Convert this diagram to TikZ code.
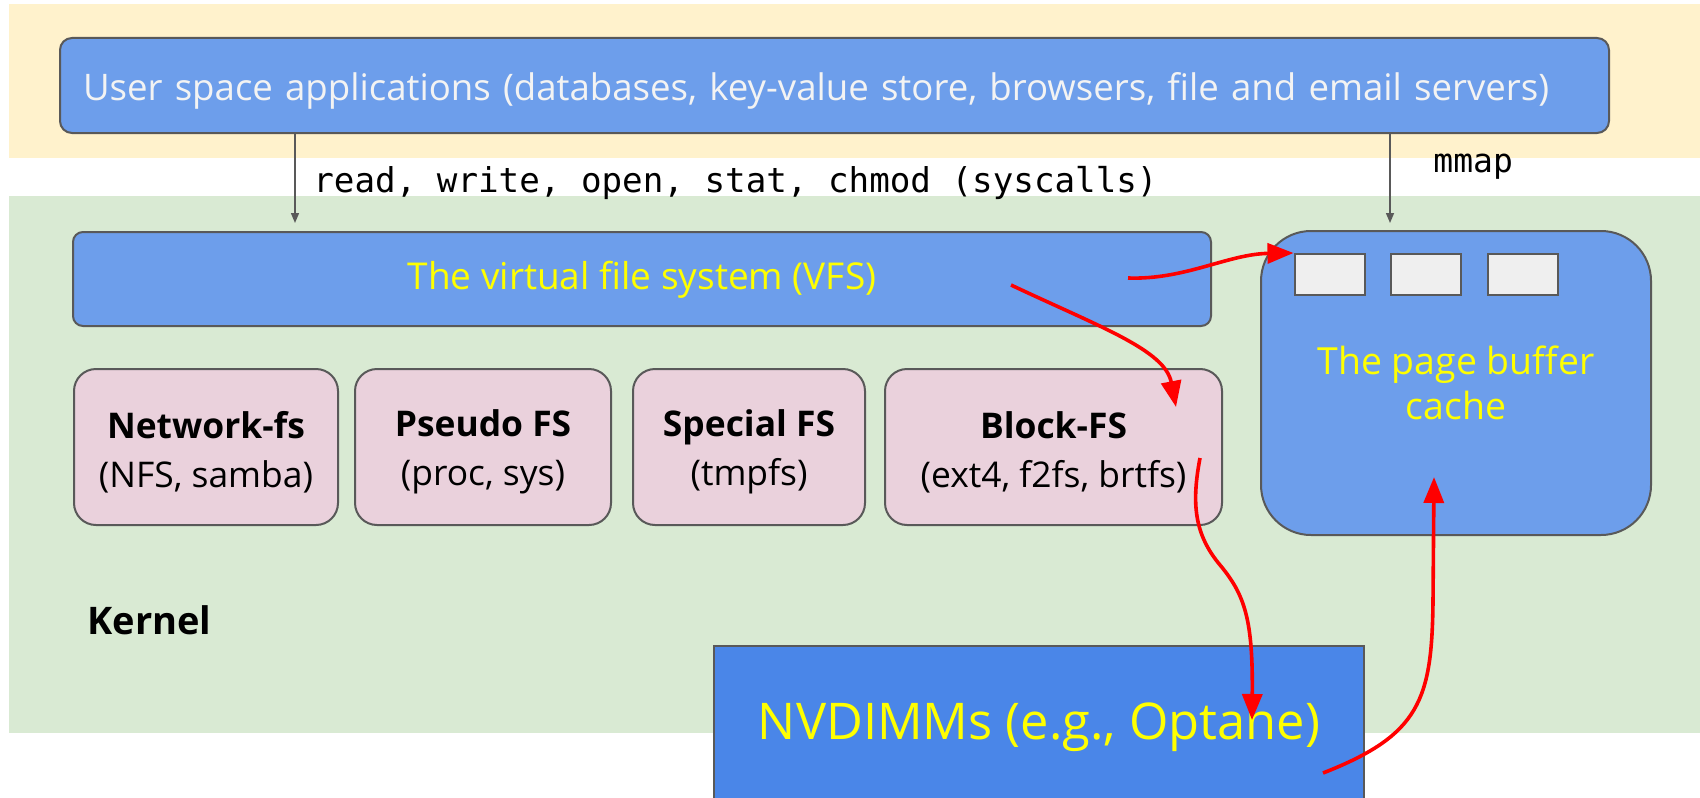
\documentclass[tikz,border=0pt]{standalone}
\usepackage{fontspec}
\setmainfont{Open Sans}
\setmonofont{DejaVu Sans Mono}
\usetikzlibrary{arrows.meta,calc}

\definecolor{userband}{HTML}{FFF2CC}
\definecolor{kernelband}{HTML}{D9EAD3}
\definecolor{boxblue}{HTML}{6D9EEB}
\definecolor{devblue}{HTML}{4A86E8}
\definecolor{fspink}{HTML}{EAD1DC}
\definecolor{edgegray}{HTML}{595959}
\definecolor{pagegray}{HTML}{EFEFEF}
\definecolor{hilite}{HTML}{FFFF00}
\definecolor{usertext}{HTML}{F3F3F3}

\tikzset{
  layerbox/.style={draw=edgegray, line width=1pt, fill=boxblue, inner sep=0pt},
  fsbox/.style={draw=edgegray, line width=1pt, fill=fspink, rounded corners=11pt,
    minimum height=78pt, inner sep=0pt, align=center, text height=42.8pt,
    font=\fontsize{17.7}{24.5}\selectfont},
  pagebox/.style={draw=edgegray, line width=1pt, fill=pagegray,
    minimum width=35pt, minimum height=20.5pt, inner sep=0pt},
  callarrow/.style={draw=edgegray, line width=0.7pt, -{Triangle[length=5pt,width=4pt]}},
  flow/.style={draw=red, line width=1.8pt, -{Triangle[length=13pt,width=10pt]}},
}

\begin{document}
\begin{tikzpicture}[x=0.5pt, y=-0.5pt]
  \useasboundingbox (0,0) rectangle (1700,797);

  % background bands: user space and kernel
  \fill[userband] (9,4) rectangle (1700,158);
  \fill[kernelband] (9,196) rectangle (1700,733);

  % user space
  \node[layerbox, rounded corners=6pt, minimum height=47.5pt, text width=751.5pt,
        inner xsep=11.5pt, align=left, text=usertext, text height=19.2pt,
        font=\fontsize{18.3}{20}\selectfont] (user) at (834.5,85.5)
        {User space applications (databases, key-value store, browsers, file and email servers)};

  % virtual file system
  \node[layerbox, rounded corners=5pt, minimum width=569pt, minimum height=47pt,
        text=hilite, text height=15pt, font=\fontsize{18.5}{20}\selectfont] (vfs) at (642,279)
        {The virtual file system (VFS)};

  % concrete file systems
  \node[fsbox, minimum width=132pt] (netfs) at (206,447)
        {\textbf{Network-fs}\\(NFS, samba)};
  \node[fsbox, minimum width=128pt] (pseudofs) at (483,447)
        {\textbf{Pseudo FS}\\(proc, sys)};
  \node[fsbox, minimum width=116pt] (specialfs) at (749,447)
        {\textbf{Special FS}\\(tmpfs)};
  \node[fsbox, minimum width=168.5pt] (blockfs) at (1053.5,447)
        {\textbf{Block-FS}\\(ext4, f2fs, brtfs)};

  % page cache with its pages
  \node[layerbox, rounded corners=25pt, minimum width=195pt, minimum height=152pt,
        text=hilite, align=center, font=\fontsize{18.7}{22.5}\selectfont] (cache) at (1456,383)
        {The page buffer\\cache};
  \node[pagebox] (pg1) at (1329.5,274.5) {};
  \node[pagebox] (pg2) at (1426,274.5) {};
  \node[pagebox] (pg3) at (1522.5,274.5) {};

  % persistent memory device
  \node[draw=edgegray, line width=1pt, fill=devblue, inner sep=0pt,
        minimum width=325pt, minimum height=81pt, text=hilite,
        font=\fontsize{25.3}{28}\selectfont] (nvdimm) at (1039,727)
        {NVDIMMs (e.g., Optane)};

  \node[anchor=west, inner sep=0pt, font=\fontsize{19}{20}\selectfont\bfseries] (kernel) at (87,620) {Kernel};

  % system call interfaces
  \coordinate (sysx) at (295,0);
  \coordinate (mmapx) at (1390,0);
  \draw[callarrow, shorten >=4pt] (user.south -| sysx) -- (vfs.north -| sysx);
  \draw[callarrow, shorten >=3.5pt] (user.south -| mmapx) -- (cache.north -| mmapx);
  \node[anchor=west, inner sep=0pt, font=\ttfamily\fontsize{17.1}{18}\selectfont] (syslbl) at (313,183)
        {read, write, open, stat, chmod (syscalls)};
  \node[anchor=west, inner sep=0pt, font=\ttfamily\fontsize{16.5}{18}\selectfont] (mmaplbl) at (1433,167)
        {mmap};

  % data paths
  \coordinate (vfsout) at (1128,278);
  \coordinate (vfsdown) at (1011,285);
  \coordinate (blkin) at (1176,407);
  \coordinate (blkout) at (1200,458);
  \coordinate (nvin) at (1252,720);
  \coordinate (nvout) at (1323,773);
  \coordinate (cachein) at (1434,477);

  \draw[flow] (vfsout) .. controls (1185,280) and (1228,254) .. (pg1.north west);
  \draw[flow] (vfsdown) .. controls (1100,327) and (1165,350) .. (blkin);
  \draw[flow] (blkout) .. controls (1191,505) and (1195,535) .. (1220,565)
                       .. controls (1245,595) and (1253,620) .. (nvin);
  \draw[flow] (nvout) .. controls (1420,735) and (1432,700) .. (1433,600) -- (cachein);
\end{tikzpicture}
\end{document}
